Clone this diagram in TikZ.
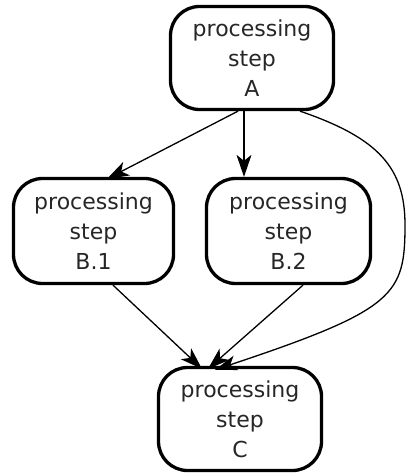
\documentclass[tikz,border=0pt]{standalone}
\usepackage{fontspec}
\setmainfont{DejaVu Sans}
\usetikzlibrary{arrows.meta}
\begin{document}
\begin{tikzpicture}[x=1pt,y=-1pt,
  stepbox/.style={draw, line width=3.3pt, rounded corners=29pt, inner sep=0pt,
    align=center, font=\fontsize{22}{30}\selectfont, text=black!85},
  flow/.style={line width=1.3pt, -{Stealth[length=22pt,width=15pt,inset=6pt]}}]
  \useasboundingbox (0,0) rectangle (406,473);
  % the four processing steps
  \node[stepbox, minimum width=163pt, minimum height=103pt] (A) at (252,58) {processing\\step\\A};
  \node[stepbox, minimum width=160pt, minimum height=105pt] (B1) at (93.5,231) {processing\\step\\B.1};
  \node[stepbox, minimum width=164pt, minimum height=105pt] (B2) at (288.5,231) {processing\\step\\B.2};
  \node[stepbox, minimum width=163pt, minimum height=103pt] (C) at (240,419) {processing\\step\\C};
  % turning point of the long connector from A to C
  \coordinate (bend) at (405,225);
  % connectors
  \draw[flow] ([xshift=-14pt]A.south) -- ([xshift=13.5pt,yshift=-2pt]B1.north);
  \draw[flow] ([xshift=-8pt]A.south) -- ([xshift=-44.5pt]B2.north);
  \draw[flow] ([xshift=48pt]A.south) .. controls +(79,27) and +(0,-57) .. (bend)
    .. controls +(0,70) and +(180,-60) .. ([xshift=-25pt,yshift=-4pt]C.north);
  \draw[flow] ([xshift=19.5pt]B1.south) -- ([xshift=-38pt,yshift=-3pt]C.north);
  \draw[flow] ([xshift=14.5pt]B2.south) -- ([xshift=-32pt,yshift=-3pt]C.north);
\end{tikzpicture}
\end{document}
